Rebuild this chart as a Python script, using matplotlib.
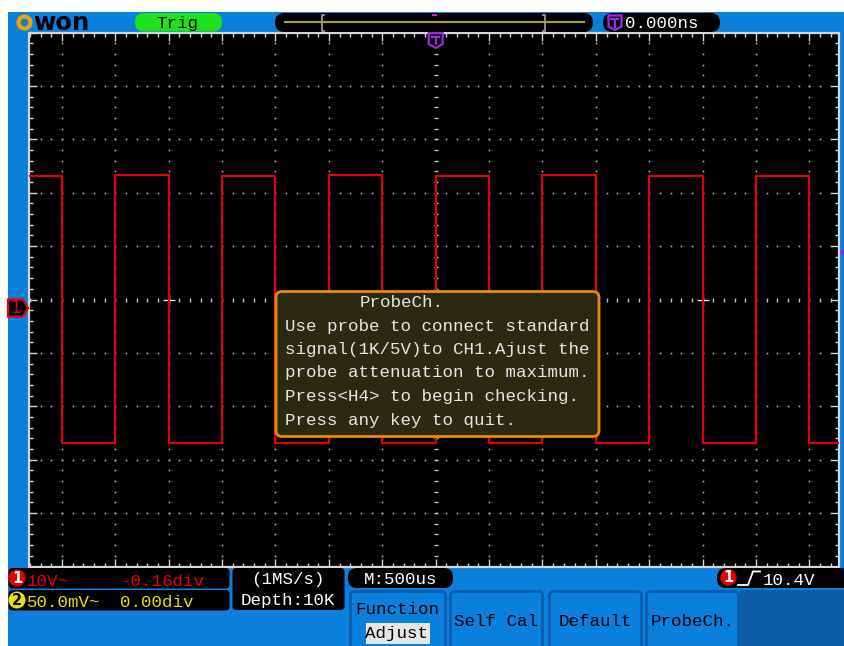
import matplotlib
matplotlib.use("Agg")
import matplotlib.pyplot as plt
from matplotlib.patches import FancyBboxPatch, Rectangle, Circle, Ellipse, Polygon
from matplotlib.ticker import MultipleLocator
from matplotlib.transforms import blended_transform_factory

# CH1 probe-check square wave (time in us, level in V)
wave_t = [-3800, -3500, -3000, -2500, -2000, -1500, -1000, -500, 0,
          500, 1000, 1500, 2000, 2500, 3000, 3500, 3780]
wave_v = [24.8, -25.2, 24.9, -25.3, 24.8, -25.2, 24.9, -25.2, 24.8,
          -25.3, 24.9, -25.2, 24.8, -25.2, 24.8, -25.2, -25.2]

ch1_volts_div = 10.0
ch1_offset_div = -0.16
time_div_us = 500
trig_level_v = 10.4

ch1_label = "10V~"
ch1_pos = "-0.16div"
ch2_label = "50.0mV~"
ch2_pos = "0.00div"
rate_label = "(1MS/s)"
depth_label = "Depth:10K"
timebase_label = "M:500us"
trig_label = "10.4V"
trig_time = "0.000ns"

dialog_title = "ProbeCh."
dialog_lines = [
    "Use probe to connect standard",
    "signal(1K/5V)to CH1.Ajust the",
    "probe attenuation to maximum.",
    "Press<H4> to begin checking.",
    "Press any key to quit.",
]
menu_buttons = ["Self Cal", "Default", "ProbeCh."]

MONO = "Liberation Mono"
FS = 12.6
BLUE = "#0a7fdc"
DARK_BLUE = "#0b5ea5"
GRID = "#c4c4c4"

W, H = 845, 646
fig = plt.figure(figsize=(W / 100, H / 100), dpi=100, facecolor="white")

# background layer (pixel coordinates)
bg = fig.add_axes([0, 0, 1, 1])
bg.set_xlim(0, W)
bg.set_ylim(H, 0)
bg.axis("off")
bg.add_patch(Rectangle((8, 12), W - 8, H - 12, fc=BLUE, ec="none"))
bg.add_patch(Rectangle((740, 590), W - 740, H - 590, fc=DARK_BLUE, ec="none"))

# scope screen in divisions
gx0, gx1, gy0, gy1 = 29.5, 839.5, 32.5, 566.5
div_px = 53.4
cx = 435.7
sc = fig.add_axes([gx0 / W, 1 - gy1 / H, (gx1 - gx0) / W, (gy1 - gy0) / H])
sc.set_facecolor("black")
sc.set_xlim(-(cx - gx0) / div_px, (gx1 - cx) / div_px)
sc.set_ylim(-5, 5)
for s in sc.spines.values():
    s.set_color("#d6d6d6")
    s.set_linewidth(1.6)
sc.xaxis.set_major_locator(MultipleLocator(1))
sc.yaxis.set_major_locator(MultipleLocator(1))
sc.xaxis.set_minor_locator(MultipleLocator(0.2))
sc.yaxis.set_minor_locator(MultipleLocator(0.2))
sc.tick_params(which="both", direction="in", top=True, right=True, bottom=True, left=True,
               labelbottom=False, labelleft=False, color="#d6d6d6", width=1)
sc.tick_params(which="major", length=6)
sc.tick_params(which="minor", length=3)

# dotted graticule
xlo, xhi = sc.get_xlim()
dots_x = [i * 0.2 for i in range(-38, 39) if xlo < i * 0.2 < xhi]
dots_y = [i * 0.2 for i in range(-24, 25)]
for k in range(-4, 5):
    if k == 0:
        sc.plot(dots_x, [0] * len(dots_x), ls="none", marker="|", ms=3.5, mew=1, color=GRID)
    else:
        sc.plot(dots_x, [k] * len(dots_x), ls="none", marker="s", ms=1.1, mew=0, color=GRID)
for k in range(-7, 8):
    if k == 0:
        sc.plot([0] * len(dots_y), dots_y, ls="none", marker="_", ms=3.5, mew=1, color=GRID)
    else:
        sc.plot([k] * len(dots_y), dots_y, ls="none", marker="s", ms=1.1, mew=0, color=GRID)
sc.plot([-5, 0, 5], [0, 0, 0], ls="none", marker="+", ms=9, mew=1, color="#e6e6e6")

# CH1 trace
tx = [t / time_div_us for t in wave_t]
ty = [v / ch1_volts_div + ch1_offset_div for v in wave_v]
sc.plot(tx, ty, drawstyle="steps-post", color="#e80000", lw=1.5, zorder=5)

# overlay layer (pixel coordinates)
ov = fig.add_axes([0, 0, 1, 1], facecolor="none")
ov.set_xlim(0, W)
ov.set_ylim(H, 0)
ov.axis("off")


def txt(x, y, s, color="white", ha="left", size=FS, **kw):
    ov.text(x, y, s, color=color, ha=ha, va="baseline", fontsize=size, family=MONO, **kw)


def rbox(x0, y0, w, h, fc, r, **kw):
    ov.add_patch(FancyBboxPatch((x0, y0), w, h, boxstyle=f"round,pad=0,rounding_size={r}",
                                fc=fc, ec=kw.pop("ec", "none"), **kw))


# top bar
ov.add_patch(Ellipse((24.5, 22.5), 12, 12, fc="none", ec="#f2a300", lw=3))
ov.text(33, 30, "won", fontsize=17.5, fontweight="bold", color="black", family="DejaVu Sans", va="baseline")
rbox(135, 13, 87, 18.5, "#1ee21a", 9)
txt(177, 28, "Trig", color="black", ha="center")
rbox(275, 13, 318, 19, "black", 9.5)
ov.plot([285, 584], [21.5, 21.5], color="#a8a800", lw=1.5)
ov.plot([324, 322, 322, 324], [14.5, 14.5, 31, 31], color="#9a9a9a", lw=1.3)
ov.plot([543, 545, 545, 543], [14.5, 14.5, 31, 31], color="#9a9a9a", lw=1.3)
ov.add_patch(Rectangle((432, 14), 5, 2, fc="#e01ad8", ec="none"))
rbox(603, 13, 117, 19, "black", 9.5)


def t_icon(x, y):
    ov.add_patch(Polygon([(x - 6.5, y - 7), (x + 6.5, y - 7), (x + 6.5, y + 4), (x, y + 7.5), (x - 6.5, y + 4)],
                         closed=True, fc="black", ec="#9a2be0", lw=1.6))
    ov.plot([x - 3.5, x + 3.5], [y - 3.5, y - 3.5], color="#9a2be0", lw=1.6)
    ov.plot([x, x], [y - 3.5, y + 4], color="#9a2be0", lw=1.6)


t_icon(615, 22.5)
txt(625, 28.5, trig_time)

# trigger-time marker on top of grid and trigger level arrow on the right
tr_top = blended_transform_factory(sc.transData, ov.transData)
ov.add_patch(Polygon([(-0.13, 33), (0.13, 33), (0.13, 44), (0, 48), (-0.13, 44)], closed=True,
                     fc="black", ec="#9a2be0", lw=1.6, transform=tr_top))
ov.plot([-0.065, 0.065], [37, 37], color="#9a2be0", lw=1.6, transform=tr_top)
ov.plot([0, 0], [37, 44], color="#9a2be0", lw=1.6, transform=tr_top)

tr_side = blended_transform_factory(ov.transData, sc.transData)
trig_div = trig_level_v / ch1_volts_div + ch1_offset_div
ov.add_patch(Polygon([(839.5, trig_div), (845, trig_div + 0.09), (845, trig_div - 0.09)], closed=True,
                     fc="#a020e0", ec="none", transform=tr_side))
ov.add_patch(Polygon([(8, ch1_offset_div + 0.16), (23, ch1_offset_div + 0.16), (28, ch1_offset_div),
                      (23, ch1_offset_div - 0.16), (8, ch1_offset_div - 0.16)], closed=True,
                     fc="black", ec="#e80000", lw=1.6, transform=tr_side, zorder=6))
ov.text(15.5, ch1_offset_div, "1", color="#e80000", ha="center", va="center", fontsize=12,
        family="DejaVu Sans", transform=tr_side, zorder=7)

# probe check dialog
rbox(276, 291.5, 323, 145, "#2b2912", 6, ec="#e58b0c", lw=2, zorder=8)
txt(360, 307, dialog_title, color="#e6e6e6", zorder=9)
for i, line in enumerate(dialog_lines):
    txt(285, 330.5 + i * 23.5, line, color="#e6e6e6", zorder=9)

# bottom status boxes
rbox(8.5, 568, 221, 20.5, "black", 4)
rbox(8.5, 590, 221, 20.5, "black", 4)
ov.add_patch(Circle((17, 578), 8.5, fc="#e80000", ec="none"))
ov.text(17, 578.5, "1", color="white", ha="center", va="center", fontsize=10.5, fontweight="bold", family="DejaVu Sans")
ov.add_patch(Circle((17, 600), 8.5, fc="#e8e000", ec="none"))
ov.text(17, 600.5, "2", color="black", ha="center", va="center", fontsize=10.5, fontweight="bold", family="DejaVu Sans")
txt(27, 585.5, ch1_label, color="#e80000")
txt(120, 585.5, ch1_pos, color="#e80000")
txt(27, 607, ch2_label, color="#e8e000")
txt(120, 607, ch2_pos, color="#e8e000")

rbox(232.5, 568, 112, 42, "black", 4)
txt(288, 584, rate_label, ha="center")
txt(288, 605, depth_label, ha="center")

rbox(348, 568, 105, 20, "black", 9)
txt(401, 583.5, timebase_label, ha="center")

rbox(717, 568, 140, 20, "black", 9)
ov.add_patch(Circle((728.5, 577.5), 8.2, fc="#e80000", ec="none"))
ov.text(728.5, 578, "1", color="white", ha="center", va="center", fontsize=10.5, fontweight="bold", family="DejaVu Sans")
ov.plot([738, 748, 753, 760], [585, 585, 571.5, 571.5], color="white", lw=1.3)
txt(763, 585, trig_label)

# soft-key menu
btn_x = [349, 449, 548, 645]
btn_w = [98, 95, 95, 95]
for x0, w in zip(btn_x, btn_w):
    rbox(x0 + 1.5, 591.5, w - 3, 60, BLUE, 4, ec="#0c5cab", lw=2)
txt(397, 614, "Function", color="black", ha="center")
ov.add_patch(Rectangle((366, 623), 64, 21, fc="#e6e6e6", ec="none"))
txt(397, 638, "Adjust", color="black", ha="center")
for x0, w, label in zip(btn_x[1:], btn_w[1:], menu_buttons):
    txt(x0 + w / 2, 626, label, color="black", ha="center")

fig.savefig("out.png", dpi=100, facecolor="white")
